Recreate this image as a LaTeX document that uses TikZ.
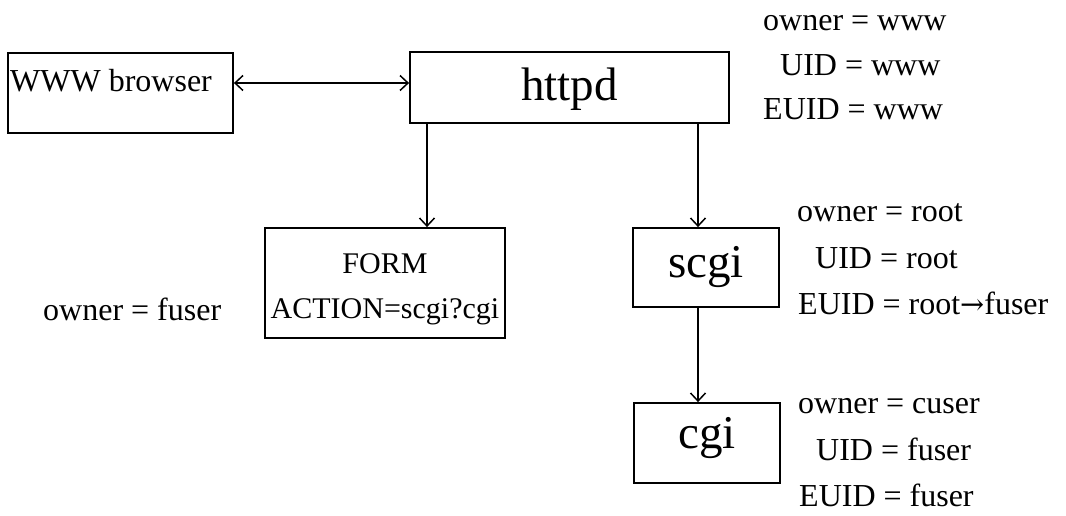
\documentclass[tikz,border=0pt]{standalone}
\usepackage{fontspec}
\setmainfont{Liberation Serif}
\newfontfamily\arrowfont{DejaVu Serif}[Scale=0.9]
\usetikzlibrary{arrows.meta}
\begin{document}
\begin{tikzpicture}[x=1pt,y=-1pt,
  box/.style={draw=black,line width=1.8pt,inner sep=0pt,fill=none},
  sm/.style={inner sep=0pt,anchor=base west,font=\fontsize{32}{36}\selectfont},
  smc/.style={inner sep=0pt,anchor=base,font=\fontsize{30}{36}\selectfont},
  big/.style={inner sep=0pt,anchor=base,font=\fontsize{47}{54}\selectfont},
  conn/.style={line width=1.5pt,-{Straight Barb[length=8pt,width=15pt,line width=1.5pt]}},
  dconn/.style={line width=1.5pt,{Straight Barb[length=8pt,width=15pt,line width=1.5pt]}-{Straight Barb[length=8pt,width=15pt,line width=1.5pt]}}]
\useasboundingbox (0,0) rectangle (1066,516);
% boxes
\node[box,minimum width=225pt,minimum height=80pt] (browser) at (120.5,93) {};
\node[box,minimum width=319pt,minimum height=71pt] (httpd) at (569.5,87.5) {};
\node[box,minimum width=240pt,minimum height=110pt] (form) at (385,283) {};
\node[box,minimum width=146pt,minimum height=79pt] (scgi) at (706,267.5) {};
\node[box,minimum width=146pt,minimum height=80pt] (cgi) at (707,443) {};
% box texts
\node[sm] (tbrowser) at (10,92) {WWW browser};
\node[big] (thttpd) at (569.5,101) {httpd};
\node[smc] (tform) at (385,273) {FORM};
\node[smc] (taction) at (385,318) {ACTION=scgi?cgi};
\node[big] (tscgi) at (706,277) {scgi};
\node[big] (tcgi) at (707,448) {cgi};
% connectors
\coordinate (ya) at (0,83);
\coordinate (xl) at (427,0);
\coordinate (xr) at (698,0);
\draw[dconn] (browser.east |- ya) -- (httpd.west |- ya);
\draw[conn] (httpd.south -| xl) -- (form.north -| xl);
\draw[conn] (httpd.south -| xr) -- (scgi.north -| xr);
\draw[conn] (scgi.south -| xr) -- (cgi.north -| xr);
% attribute texts
\node[sm] (o1) at (763,31) {owner = www};
\node[sm] (u1) at (780,76) {UID = www};
\node[sm] (e1) at (763,120) {EUID = www};
\node[sm] (o2) at (797,222) {owner = root};
\node[sm] (u2) at (815,268) {UID = root};
\node[sm] (e2) at (798,314) {EUID = root{\arrowfont →}fuser};
\node[sm] (o3) at (798,413) {owner = cuser};
\node[sm] (u3) at (816,460) {UID = fuser};
\node[sm] (e3) at (799,506) {EUID = fuser};
\node[sm] (o4) at (43,320) {owner = fuser};
\end{tikzpicture}
\end{document}
